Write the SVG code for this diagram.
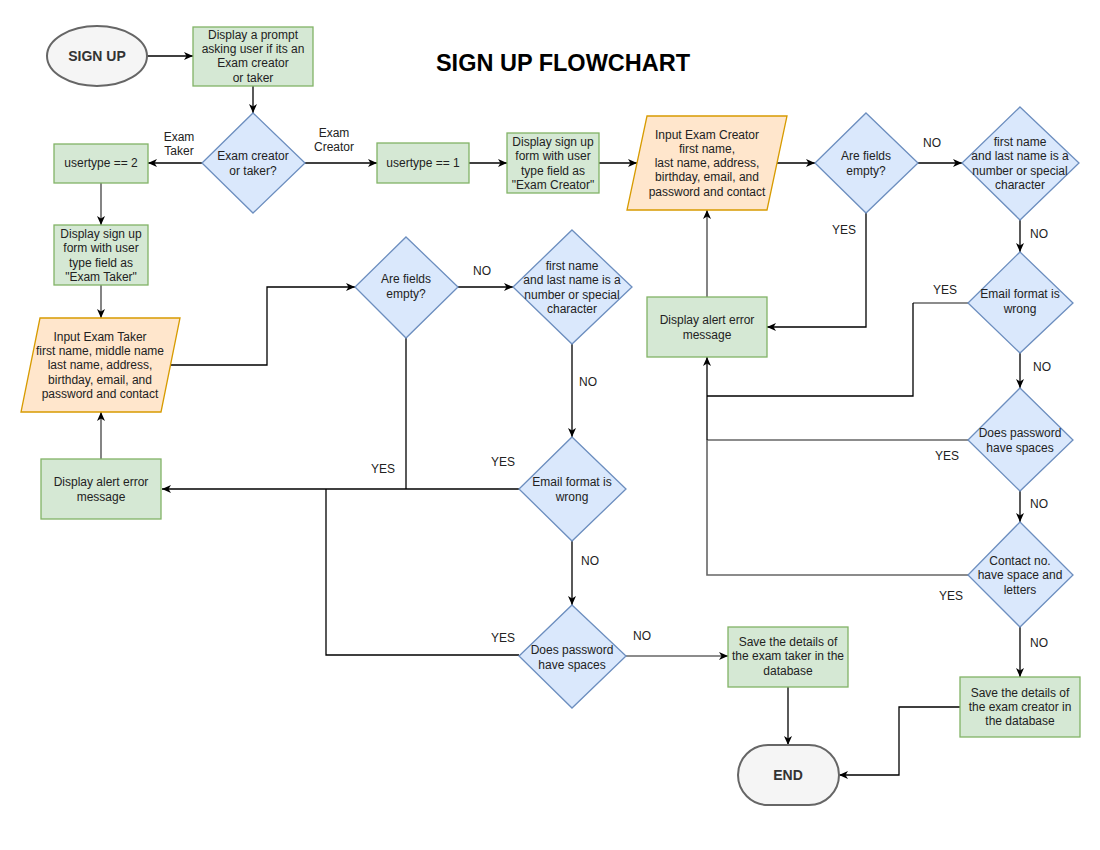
<svg xmlns="http://www.w3.org/2000/svg" width="1100" height="850" viewBox="0 0 1100 850">
<defs>
<marker id="arr" markerUnits="userSpaceOnUse" markerWidth="10" markerHeight="10" refX="9" refY="5" orient="auto">
<path d="M0,1 L9,5 L0,9 L2.5,5 z" fill="#000"/>
</marker>
<marker id="arrg" markerUnits="userSpaceOnUse" markerWidth="10" markerHeight="10" refX="9" refY="5" orient="auto">
<path d="M0,1 L9,5 L0,9 L2.5,5 z" fill="#000"/>
</marker>
</defs>
<style>
text{font-family:"Liberation Sans",Arial,sans-serif;font-size:12px;fill:#222;text-anchor:middle}
.title{font-size:23.5px;font-weight:bold;fill:#000}
.bold{font-size:14px;font-weight:bold;fill:#333}
.green{fill:#d5e8d4;stroke:#82b366;stroke-width:1.3}
.blue{fill:#dae8fc;stroke:#6c8ebf;stroke-width:1.3}
.orange{fill:#ffe6cc;stroke:#d79b00;stroke-width:1.3}
.term{fill:#f5f5f5;stroke:#666;stroke-width:2}
.e{fill:none;stroke:#000;stroke-width:1.3}
.g{fill:none;stroke:#666;stroke-width:1.6}
.ea{marker-end:url(#arr)}
.lbl{fill:#222}
</style>
<rect width="1100" height="850" fill="#fff"/>
<text class="title" x="563" y="71">SIGN UP FLOWCHART</text>

<g id="connectors">
<path class="e ea" d="M147,56 H193"/>
<path class="e ea" d="M253,86 V113"/>
<path class="e ea" d="M202,163 H148"/>
<path class="e ea" d="M305,163 H377"/>
<path class="e ea" d="M469,163 H507"/>
<path class="e ea" d="M599,163 H637"/>
<path class="e ea" d="M777,163 H815"/>
<path class="e ea" d="M918,163 H962"/>
<path class="e ea" d="M1020,220 V252"/>
<path class="e ea" d="M866,213 V327 H767"/>
<path class="g ea" d="M707,297 V210"/>
<path class="g" d="M968,303 H913"/>
<path class="e" d="M913,303 V396 H707"/>
<path class="g" d="M968,440 H707"/>
<path class="g" d="M968,575 H707 V440"/>
<path class="e ea" d="M707,440 V357"/>
<path class="e ea" d="M1020,353 V388"/>
<path class="e ea" d="M1020,491 V522"/>
<path class="e ea" d="M1020,627 V677"/>
<path class="e ea" d="M960,707 H899 V775 H839"/>
<path class="e ea" d="M788,687 V745"/>
<path class="g ea" d="M101,183 V225"/>
<path class="g ea" d="M101,285 V318"/>
<path class="e ea" d="M171,365 H267 V287 H355"/>
<path class="e ea" d="M458,287 H513"/>
<path class="e ea" d="M572,344 V437"/>
<path class="e" d="M406,338 V489"/>
<path class="e ea" d="M519,489 H162"/>
<path class="e" d="M519,655 H326 V489"/>
<path class="e ea" d="M572,541 V605"/>
<path class="g ea" d="M626,656 H728"/>
<path class="g ea" d="M101,459 V412"/>
</g>

<g id="edge-labels">
<text x="179" y="141">Exam</text><text x="179" y="155">Taker</text>
<text x="334" y="137">Exam</text><text x="334" y="151">Creator</text>
<text x="932" y="147">NO</text>
<text x="1039" y="238">NO</text>
<text x="844" y="234">YES</text>
<text x="945" y="294">YES</text>
<text x="1042" y="371">NO</text>
<text x="947" y="460">YES</text>
<text x="1039" y="508">NO</text>
<text x="951" y="600">YES</text>
<text x="1039" y="647">NO</text>
<text x="482" y="275">NO</text>
<text x="588" y="386">NO</text>
<text x="383" y="473">YES</text>
<text x="503" y="466">YES</text>
<text x="590" y="565">NO</text>
<text x="503" y="642">YES</text>
<text x="642" y="640">NO</text>
</g>

<g id="signup">
<ellipse class="term" cx="97" cy="56" rx="50" ry="30"/>
<text class="bold" x="97" y="61">SIGN UP</text>
</g>
<g id="prompt">
<rect class="green" x="193" y="27" width="120" height="59"/>
<text x="253" y="39">Display a prompt</text>
<text x="253" y="53">asking user if its an</text>
<text x="253" y="67">Exam creator</text>
<text x="253" y="82">or taker</text>
</g>
<g id="creator-or-taker">
<polygon class="blue" points="253,113 305,163 253,213 202,163"/>
<text x="253" y="160">Exam creator</text>
<text x="253" y="175">or taker?</text>
</g>
<g id="usertype2">
<rect class="green" x="54" y="144" width="94" height="39"/>
<text x="101" y="167">usertype == 2</text>
</g>
<g id="usertype1">
<rect class="green" x="377" y="143" width="92" height="40"/>
<text x="423" y="167">usertype == 1</text>
</g>
<g id="form-creator">
<rect class="green" x="507" y="133" width="92" height="60"/>
<text x="553" y="146">Display sign up</text>
<text x="553" y="160">form with user</text>
<text x="553" y="175">type field as</text>
<text x="553" y="189">"Exam Creator"</text>
</g>
<g id="input-creator">
<polygon class="orange" points="647,116 787,116 767,210 627,210"/>
<text x="707" y="139">Input Exam Creator</text>
<text x="707" y="153">first name,</text>
<text x="707" y="167">last name, address,</text>
<text x="707" y="181">birthday, email, and</text>
<text x="707" y="196">password and contact</text>
</g>
<g id="fields-empty-creator">
<polygon class="blue" points="866,113 918,163 866,213 815,163"/>
<text x="866" y="160">Are fields</text>
<text x="866" y="175">empty?</text>
</g>
<g id="name-check-creator">
<polygon class="blue" points="1020,107 1079,163 1020,220 962,163"/>
<text x="1020" y="146">first name</text>
<text x="1020" y="160">and last name is a</text>
<text x="1020" y="175">number or special</text>
<text x="1020" y="189">character</text>
</g>
<g id="email-creator">
<polygon class="blue" points="1020,252 1073,303 1020,353 968,303"/>
<text x="1020" y="298">Email format is</text>
<text x="1020" y="313">wrong</text>
</g>
<g id="alert-creator">
<rect class="green" x="647" y="297" width="120" height="60"/>
<text x="707" y="324">Display alert error</text>
<text x="707" y="339">message</text>
</g>
<g id="password-creator">
<polygon class="blue" points="1020,388 1073,440 1020,491 968,440"/>
<text x="1020" y="437">Does password</text>
<text x="1020" y="452">have spaces</text>
</g>
<g id="contact-creator">
<polygon class="blue" points="1020,522 1073,575 1020,627 968,575"/>
<text x="1020" y="565">Contact no.</text>
<text x="1020" y="579">have space and</text>
<text x="1020" y="594">letters</text>
</g>
<g id="save-creator">
<rect class="green" x="960" y="677" width="120" height="60"/>
<text x="1020" y="697">Save the details of</text>
<text x="1020" y="711">the exam creator in</text>
<text x="1020" y="725">the database</text>
</g>
<g id="save-taker">
<rect class="green" x="728" y="627" width="120" height="60"/>
<text x="788" y="646">Save the details of</text>
<text x="788" y="660">the exam taker in the</text>
<text x="788" y="675">database</text>
</g>
<g id="end">
<rect class="term" x="738" y="745" width="101" height="60" rx="30" ry="30"/>
<text class="bold" x="788" y="780">END</text>
</g>
<g id="form-taker">
<rect class="green" x="54" y="225" width="94" height="60"/>
<text x="101" y="238">Display sign up</text>
<text x="101" y="252">form with user</text>
<text x="101" y="267">type field as</text>
<text x="101" y="281">"Exam Taker"</text>
</g>
<g id="input-taker">
<polygon class="orange" points="40,318 180,318 161,412 21,412"/>
<text x="100" y="341">Input Exam Taker</text>
<text x="100" y="355">first name, middle name</text>
<text x="100" y="369">last name, address,</text>
<text x="100" y="384">birthday, email, and</text>
<text x="100" y="398">password and contact</text>
</g>
<g id="alert-taker">
<rect class="green" x="41" y="459" width="120" height="60"/>
<text x="101" y="486">Display alert error</text>
<text x="101" y="501">message</text>
</g>
<g id="fields-empty-taker">
<polygon class="blue" points="406,237 458,287 406,338 355,287"/>
<text x="406" y="283">Are fields</text>
<text x="406" y="298">empty?</text>
</g>
<g id="name-check-taker">
<polygon class="blue" points="572,230 632,287 572,344 513,287"/>
<text x="572" y="270">first name</text>
<text x="572" y="284">and last name is a</text>
<text x="572" y="299">number or special</text>
<text x="572" y="313">character</text>
</g>
<g id="email-taker">
<polygon class="blue" points="572,437 626,489 572,541 519,489"/>
<text x="572" y="486">Email format is</text>
<text x="572" y="501">wrong</text>
</g>
<g id="password-taker">
<polygon class="blue" points="572,605 626,656 572,708 519,656"/>
<text x="572" y="654">Does password</text>
<text x="572" y="669">have spaces</text>
</g>
</svg>
